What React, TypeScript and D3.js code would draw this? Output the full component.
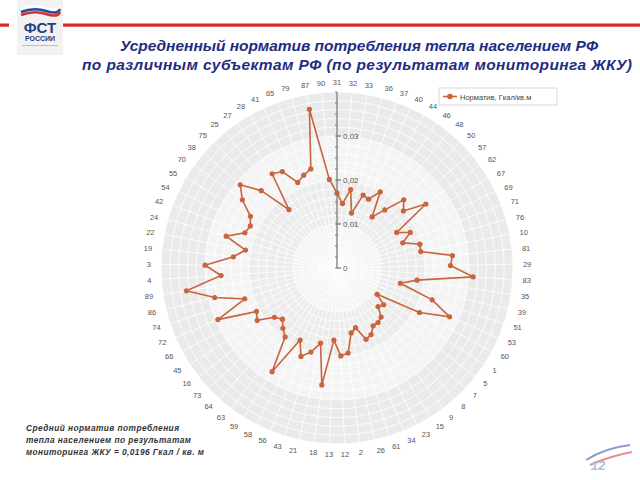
import React from "react";
import * as d3 from "d3";

const categories = ["31","32","33","36","37","40","44","46","48","50","57","62","67","69","71","76","10","81","29","83","35","39","51","53","60","1","5","7","8","9","15","23","34","61","26","2","12","13","18","21","43","56","58","59","63","64","73","16","45","66","72","74","86","89","4","3","19","22","24","42","54","55","70","38","75","25","27","28","41","65","79","87","90"];
const values = [0.0170,0.0147,0.0181,0.0129,0.0176,0.0172,0.0199,0.0141,0.0171,0.0217,0.0199,0.0249,0.0158,0.0185,0.0160,0.0196,0.0194,0.0264,0.0258,0.0310,0.0184,0.0148,0.0228,0.0279,0.0213,0.0109,0.0135,0.0128,0.0150,0.0155,0.0155,0.0170,0.0175,0.0142,0.0151,0.0195,0.0200,0.0164,0.0268,0.0175,0.0200,0.0217,0.0184,0.0278,0.0196,0.0184,0.0170,0.0181,0.0217,0.0208,0.0295,0.0221,0.0286,0.0346,0.0264,0.0300,0.0237,0.0212,0.0262,0.0224,0.0219,0.0229,0.0265,0.0290,0.0246,0.0172,0.0260,0.0252,0.0214,0.0224,0.0233,0.0366,0.0202];
const axisTicks = [0, 0.01, 0.02, 0.03];
const tickLabels = ["0", "0,01", "0,02", "0,03"];
const seriesName = "Норматив, Гкал/кв.м";
const titleLines = ["Усредненный норматив потребления тепла населением РФ", "по различным субъектам РФ (по результатам мониторинга ЖКУ)"];
const noteLines = ["Средний норматив потребления", "тепла населением по результатам", "мониторинга ЖКУ = 0,0196 Гкал / кв. м"];

export default function App() {
  const W = 640, H = 480;
  const cx = 337, cy = 268, R = 176;
  const rMax = 0.04;
  const r = d3.scaleLinear().domain([0, rMax]).range([0, R]);
  const n = categories.length;
  const ang = d3.scaleLinear().domain([0, n]).range([0, 2 * Math.PI]);
  const pt = (i: number, v: number): [number, number] => [cx + r(v) * Math.sin(ang(i)), cy - r(v) * Math.cos(ang(i))];
  const line = d3.line<number>().x((v, i) => pt(i, v)[0]).y((v, i) => pt(i, v)[1]).curve(d3.curveLinearClosed);
  const bands = d3.range(0, rMax, 0.01);
  const bandFill = ["#f4f4f4", "#ececec", "#f4f4f4", "#eaeaea"];
  const minor = d3.range(0.002, rMax + 1e-9, 0.002);
  const minorTicks = d3.range(0, rMax + 1e-9, 0.0025);
  const col = "#c8643e";
  const font = "'Liberation Sans', Arial, sans-serif";
  return (
    <svg width={W} height={H} style={{ position: "absolute", left: 0, top: 0, background: "#fff" }} fontFamily={font}>
      {/* header */}
      <rect x={0} y={23.5} width={9} height={3.2} fill="#e0262b" />
      <rect x={63} y={23.5} width={577} height={3.2} fill="#e0262b" />
      <rect x={17} y={0} width={46} height={55} fill="#f2f2f2" />
      <path d="M21,9 Q34,4 46,8 T60,6" stroke="#ffffff" strokeWidth={2.5} fill="none" />
      <path d="M21,12 Q34,7 46,11 T60,9" stroke="#2a4a9a" strokeWidth={2.5} fill="none" />
      <path d="M21,15 Q34,10 46,14 T60,12" stroke="#d63030" strokeWidth={2.5} fill="none" />
      <text x={40} y={33} textAnchor="middle" fontSize={15} fontWeight="bold" fill="#23407f">ФСТ</text>
      <text x={40} y={40.5} textAnchor="middle" fontSize={7} fontWeight="bold" fill="#23407f">РОССИИ</text>
      <rect x={22} y={45} width={36} height={1} fill="#b8c0d0" />
      {titleLines.map((t, i) => (
        <text key={i} x={i === 0 ? 359 : 357} y={51 + i * 19} textAnchor="middle" fontSize={15.5} fontStyle="italic" fontWeight="bold" fill="#1f2d80" textLength={i === 0 ? 478 : 550}>{t}</text>
      ))}
      {/* radar background */}
      {bands.map((b, i) => (
        <path key={i} d={d3.arc()({ innerRadius: r(b), outerRadius: r(b + 0.01), startAngle: 0, endAngle: 2 * Math.PI }) || ""} transform={`translate(${cx},${cy})`} fill={bandFill[i]} />
      ))}
      {minor.map((m, i) => (
        <circle key={i} cx={cx} cy={cy} r={r(m)} fill="none" stroke="#ffffff" strokeWidth={0.8} />
      ))}
      {categories.map((c, i) => {
        const [x2, y2] = pt(i, rMax);
        return <line key={i} x1={cx} y1={cy} x2={x2} y2={y2} stroke="#ffffff" strokeWidth={0.8} />;
      })}
      {/* axis */}
      <line x1={cx} y1={cy} x2={cx} y2={cy - R} stroke="#555" strokeWidth={1} />
      {minorTicks.map((t, i) => (
        <line key={i} x1={cx - 2} x2={cx} y1={cy - r(t)} y2={cy - r(t)} stroke="#666" strokeWidth={0.8} />
      ))}
      {axisTicks.map((t, i) => (
        <g key={i}>
          <line x1={cx} x2={cx + 4} y1={cy - r(t)} y2={cy - r(t)} stroke="#555" />
          <text x={cx + 6} y={cy - r(t) + 3} fontSize={8} fill="#555">{tickLabels[i]}</text>
        </g>
      ))}
      {/* series */}
      <path d={line(values) || ""} fill="none" stroke={col} strokeWidth={1.6} />
      {values.map((v, i) => {
        const [x, y] = pt(i, v);
        return <circle key={i} cx={x} cy={y} r={2.6} fill={col} />;
      })}
      {/* category labels */}
      {categories.map((c, i) => {
        const a = ang(i);
        const lr = R + 10;
        const x = cx + lr * Math.sin(a);
        const y = cy - lr * Math.cos(a);
        const s = Math.sin(a);
        const anchor = Math.abs(s) < 0.2 ? "middle" : s > 0 ? "start" : "end";
        return <text key={i} x={x} y={y + 3} fontSize={7.5} textAnchor={anchor} fill="#555">{c}</text>;
      })}
      {/* legend */}
      <rect x={439} y={88} width={118} height={17} fill="#fff" stroke="#d8d8d8" />
      <line x1={443} x2={457} y1={96.5} y2={96.5} stroke={col} strokeWidth={1.6} />
      <circle cx={450} cy={96.5} r={2.8} fill={col} />
      <text x={460} y={99.5} fontSize={7.5} fill="#444">{seriesName}</text>
      {/* note */}
      {noteLines.map((t, i) => (
        <text key={i} x={26} y={431 + i * 12} fontSize={8.3} fontStyle="italic" fontWeight="bold" fill="#333" letterSpacing={0.45}>{t}</text>
      ))}
      {/* page number */}
      <path d="M586,460 Q605,448 630,445" stroke="#2a4a9a" strokeWidth={2} fill="none" opacity={0.55} />
      <path d="M590,465 Q610,456 632,452" stroke="#d63030" strokeWidth={2} fill="none" opacity={0.55} />
      <text x={598} y={470} fontSize={13} fontStyle="italic" fontWeight="bold" fill="#a8c4e0" textAnchor="middle">12</text>
    </svg>
  );
}
